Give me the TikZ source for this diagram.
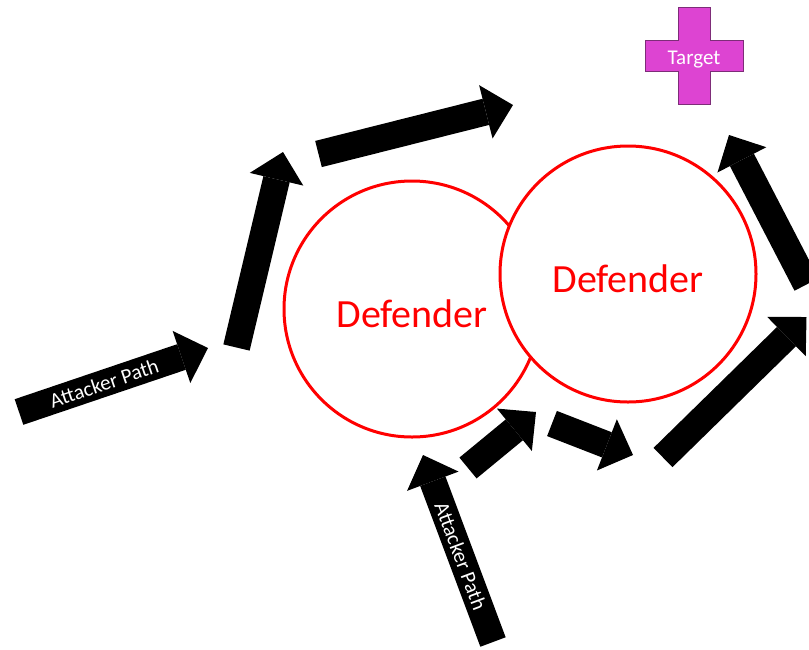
\documentclass[tikz,border=0pt]{standalone}
\usepackage{fontspec}
\setmainfont{Carlito}
\usetikzlibrary{arrows.meta}
\definecolor{targetpink}{RGB}{221,68,210}
\definecolor{targetedge}{RGB}{125,45,120}

\begin{document}
\begin{tikzpicture}[x=1pt,y=-1pt,
    attack/.style={line width=27pt,-{Triangle[length=28pt,width=55pt,line width=0pt]}},
    pathtext/.style={text=white,font=\fontsize{21}{24}\selectfont,sloped,pos=.45},
    defender/.style={circle,draw=red,line width=3pt,fill=white,minimum size=256pt,inner sep=0pt},
    deftext/.style={text=red,font=\fontsize{40}{48}\selectfont,anchor=base}]
  \useasboundingbox (0,0) rectangle (809,649);
  \clip (0,0) rectangle (809,649);
  % defenders, the right one lies over the left one
  \node[defender] (def1) at (412,309) {};
  \node[defender] (def2) at (628,274) {};
  \node[deftext] at ([yshift=-18pt]def1.center) {Defender};
  \node[deftext] at ([yshift=-18pt]def2.center) {Defender};
  % target
  \filldraw[fill=targetpink,draw=targetedge,line width=.8pt] (678,7) -- (710,7) -- (710,40) -- (743,40)
    -- (743,71) -- (710,71) -- (710,104) -- (678,104) -- (678,71) -- (645,71) -- (645,40) -- (678,40) -- cycle;
  \node[text=white,font=\fontsize{21}{24}\selectfont,anchor=base] (target) at (694,64) {Target};
  % tails and heads of the attack arrows
  \coordinate (t1) at (19,412);    \coordinate (h1) at (208,348);
  \coordinate (t2) at (236.5,347.5); \coordinate (h2) at (283,152);
  \coordinate (t3) at (318.5,154); \coordinate (h3) at (513,105);
  \coordinate (t4) at (493,642);   \coordinate (h4) at (423,455);
  \coordinate (t5) at (468,468);   \coordinate (h5) at (536,412);
  \coordinate (t6) at (552,423.5); \coordinate (h6) at (633,455);
  \coordinate (t7) at (663,457.5); \coordinate (h7) at (806.5,317);
  \coordinate (t8) at (806.5,284.5); \coordinate (h8) at (729,135);
  \draw[attack] (t1) -- node[pathtext] {Attacker Path} (h1);
  \draw[attack] (t4) -- node[pathtext,pos=.46] {Attacker Path} (h4);
  \foreach \i in {2,3,5,6,7,8}{
    \draw[attack] (t\i) -- (h\i);
  }
\end{tikzpicture}
\end{document}
